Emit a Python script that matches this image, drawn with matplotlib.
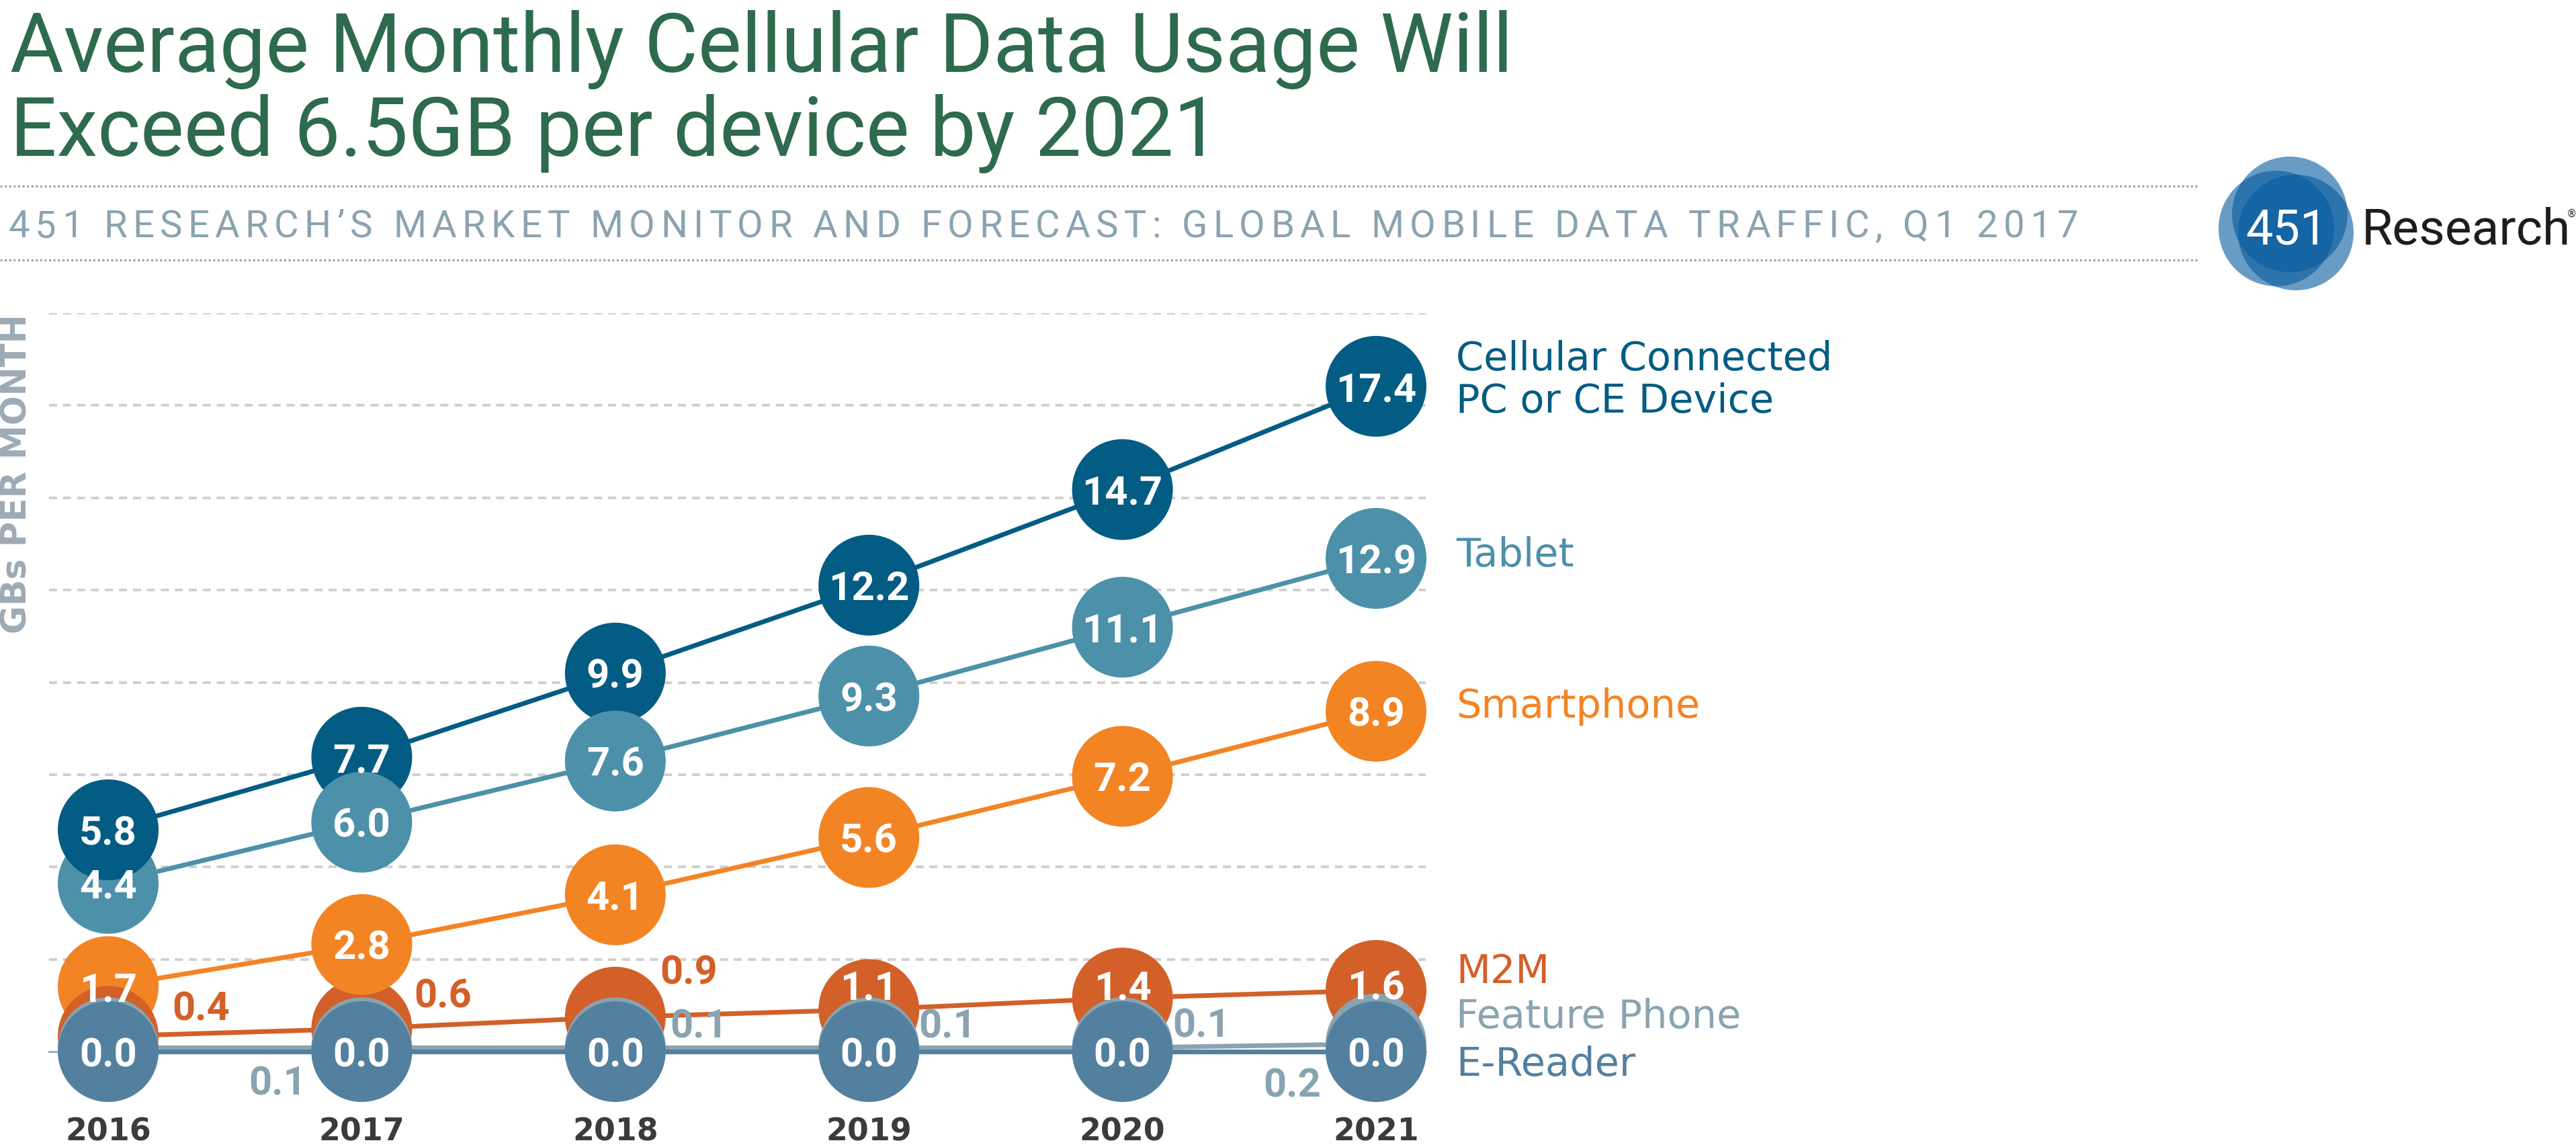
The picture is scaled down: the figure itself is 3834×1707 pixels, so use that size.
"""
Average monthly cellular data usage per device, 2016-2021 forecast
(451 Research market monitor, Q1 2017) drawn as a bubble-line chart.
"""

import numpy as np
import matplotlib
matplotlib.use("Agg")
import matplotlib.pyplot as plt
from matplotlib.patches import Circle
from matplotlib.font_manager import FontProperties, findfont, get_font

# canvas, in pixels (dpi 100)
W, H = 3834, 1708
DPI = 100
PX = 72 / DPI          # points per pixel

# ---- data -------------------------------------------------------------
years = [2016, 2017, 2018, 2019, 2020, 2021]

pc_ce_device  = [5.8, 7.7, 9.9, 12.2, 14.7, 17.4]
tablet        = [4.4, 6.0, 7.6, 9.3, 11.1, 12.9]
smartphone    = [1.7, 2.8, 4.1, 5.6, 7.2, 8.9]
m2m           = [0.4, 0.6, 0.9, 1.1, 1.4, 1.6]
feature_phone = [0.1, 0.1, 0.1, 0.1, 0.1, 0.2]
e_reader      = [0.0, 0.0, 0.0, 0.0, 0.0, 0.0]

series_keys = ["pc", "tablet", "smartphone", "m2m", "feature", "ereader"]
series_values = {
    "pc": pc_ce_device,
    "tablet": tablet,
    "smartphone": smartphone,
    "m2m": m2m,
    "feature": feature_phone,
    "ereader": e_reader,
}
series_labels = {
    "pc": ["Cellular Connected", "PC or CE Device"],
    "tablet": ["Tablet"],
    "smartphone": ["Smartphone"],
    "m2m": ["M2M"],
    "feature": ["Feature Phone"],
    "ereader": ["E-Reader"],
}

title_lines = ["Average Monthly Cellular Data Usage Will",
               "Exceed 6.5GB per device by 2021"]
subtitle = "451 RESEARCH\u2019S MARKET MONITOR AND FORECAST: GLOBAL MOBILE DATA TRAFFIC, Q1 2017"
y_label = "GBs PER MONTH"

# ---- style ------------------------------------------------------------
colors = {
    "pc": "#035c83",
    "tablet": "#4d90aa",
    "smartphone": "#f38423",
    "m2m": "#d26028",
    "feature": "#8aa3b1",
    "ereader": "#54809f",
}
TITLE_GREEN = "#2e6a4e"
SUB_GREY = "#8ba3b1"
AXIS_GREY = "#9eabb5"
GRID_GREY = "#d0d0d0"
YEAR_GREY = "#3b3b3b"
LOGO_BLUE = "#055a9e"

# baselines (px from top) of the right-hand series names
label_baselines = {
    "pc": [551, 614],
    "tablet": [843],
    "smartphone": [1068],
    "m2m": [1463],
    "feature": [1530],
    "ereader": [1601],
}

# value labels that sit outside their bubble: (dx, dy) in px, dy up
outside_labels = {
    "m2m": {0: (138, 46), 1: (121, 54), 2: (109, 72)},
    "feature": {1: (-125, -48), 2: (124, 37), 3: (117, 37),
                4: (118, 38), 5: (-125, -57)},
}
# in-bubble labels nudged upward (px) because lower bubbles cover them
inside_lift = {"m2m": {3: 37, 4: 20, 5: 9}}

# bubble stacking, bottom -> top
default_order = ["pc", "tablet", "m2m", "smartphone", "feature", "ereader"]
order_by_year = {2016: ["tablet", "pc", "smartphone", "m2m", "feature", "ereader"]}

BUBBLE_D = 150                  # px
LINE_W = 7                      # px
NUM_SIZE = 43                   # pt
NUM_CAP = NUM_SIZE / PX * 0.711  # px, cap height of the numbers
YEAR_BASELINE = 1698            # px from top

# chart area in px
X_LEFT, X_RIGHT = 73, 2122
Y_ZERO, Y_TOP_PX = 1566, 467
PX_PER_UNIT = 56.9
PX_PER_YEAR = 377.4
X_FIRST = 161

roboto = "Roboto"
dejavu = "DejaVu Sans"


def tracked_text(axis, x, y, s, width, prop, **kw):
    """Letter-spaced text, stretched to the given pixel width."""
    font = get_font(findfont(prop))
    font.set_size(prop.get_size_in_points(), DPI)
    adv = [font.load_char(ord(c)).linearHoriAdvance / 65536 for c in s]
    track = (width - sum(adv)) / (len(s) - 1)
    for c, a in zip(s, adv):
        if c != " ":
            axis.text(x, y, c, fontproperties=prop, ha="left",
                      va="baseline", **kw)
        x += a + track


fig = plt.figure(figsize=(W / DPI, H / DPI), dpi=DPI)
fig.patch.set_facecolor("white")

# overlay in pixel coordinates for the header, logo and series names
ov = fig.add_axes([0, 0, 1, 1])
ov.set_xlim(0, W)
ov.set_ylim(H, 0)
ov.set_axis_off()

# title
for line, base in zip(title_lines, [107, 232]):
    ov.text(15, base, line, fontfamily=roboto, fontweight="normal",
            fontsize=88, color=TITLE_GREEN, ha="left", va="baseline")

# dotted rules round the subtitle
for yy in [278, 388]:
    ov.plot([0, 3271], [yy, yy], color=SUB_GREY, lw=3 * PX,
            linestyle=(0, (1, 1.2)), solid_capstyle="butt")

tracked_text(ov, 12, 353, subtitle, 3081,
             FontProperties(family=roboto, size=40.5), color=SUB_GREY)

# logo: three translucent rings plus wordmark
for cx, cy in [(3408, 320), (3388, 341), (3417, 347)]:
    ov.add_patch(Circle((cx, cy), 86, facecolor=LOGO_BLUE, alpha=0.6,
                        edgecolor="none"))
ov.text(3403, 363, "451", fontfamily=roboto, fontsize=52, color="white",
        ha="center", va="baseline")
ov.text(3515, 363, "Research", fontfamily=roboto, fontsize=54,
        color="#1d1d1b", ha="left", va="baseline")
ov.text(3828, 318, "\u00ae", fontfamily=dejavu, fontsize=11,
        color="#1d1d1b", ha="center", va="center")

# vertical axis caption
ov.text(26, 705, y_label, fontfamily=dejavu, fontweight="bold",
        fontsize=37, color=AXIS_GREY, rotation=90, ha="center",
        va="center", rotation_mode="anchor")

# series names at the right
for key in series_keys:
    for text, base in zip(series_labels[key], label_baselines[key]):
        ov.text(2167, base, text, fontfamily=dejavu, fontsize=42.5,
                color=colors[key], ha="left", va="baseline")

# ---- chart ------------------------------------------------------------
ax = fig.add_axes([X_LEFT / W, (H - Y_ZERO) / H,
                   (X_RIGHT - X_LEFT) / W, (Y_ZERO - Y_TOP_PX) / H])
ax.set_facecolor("none")
x_lo = years[0] - (X_FIRST - X_LEFT) / PX_PER_YEAR
x_hi = x_lo + (X_RIGHT - X_LEFT) / PX_PER_YEAR
y_top = (Y_ZERO - Y_TOP_PX) / PX_PER_UNIT
ax.set_xlim(x_lo, x_hi)
ax.set_ylim(0, y_top)
ax.set_axis_off()

grid_levels = np.linspace(0, y_top, 9)
for lvl in grid_levels[1:]:
    ax.axhline(lvl, color=GRID_GREY, lw=4 * PX, linestyle=(0, (3, 2.2)),
               zorder=1)
ax.axhline(0, color="#9fb1bb", lw=3 * PX, zorder=1, clip_on=False)

for key in series_keys:
    ax.plot(years, series_values[key], color=colors[key], lw=LINE_W * PX,
            solid_capstyle="butt", zorder=2, clip_on=False)

for i, yr in enumerate(years):
    order = order_by_year.get(yr, default_order)
    for rank, key in enumerate(order):
        ax.scatter([yr], [series_values[key][i]], s=(BUBBLE_D * PX) ** 2,
                   color=colors[key], edgecolors="none", zorder=3 + rank,
                   clip_on=False)

num_font = dict(fontfamily=roboto, fontweight="bold", fontsize=NUM_SIZE)
half_cap = NUM_CAP / 2 * PX
for key in series_keys:
    outside = outside_labels.get(key)
    lifts = inside_lift.get(key, {})
    for i, yr in enumerate(years):
        v = series_values[key][i]
        txt = f"{v:.1f}"
        if outside is not None:
            if i in outside:
                dx, dy = outside[i]
                ax.annotate(txt, (yr, v), xytext=(dx * PX, dy * PX - half_cap),
                            textcoords="offset points", ha="center",
                            va="baseline", color=colors[key], zorder=20,
                            annotation_clip=False, **num_font)
                continue
            if i not in lifts:
                continue
        dy = lifts.get(i, 0)
        ax.annotate(txt, (yr, v), xytext=(0, dy * PX - half_cap),
                    textcoords="offset points", ha="center", va="baseline",
                    color="white", zorder=20, annotation_clip=False,
                    **num_font)

for yr in years:
    ax.annotate(str(yr), (yr, 0), xytext=(0, -(YEAR_BASELINE - Y_ZERO) * PX),
                textcoords="offset points", ha="center", va="baseline",
                fontfamily=dejavu, fontweight="bold", fontsize=33,
                color=YEAR_GREY, annotation_clip=False)

fig.savefig("out.png", dpi=DPI, facecolor="white")
